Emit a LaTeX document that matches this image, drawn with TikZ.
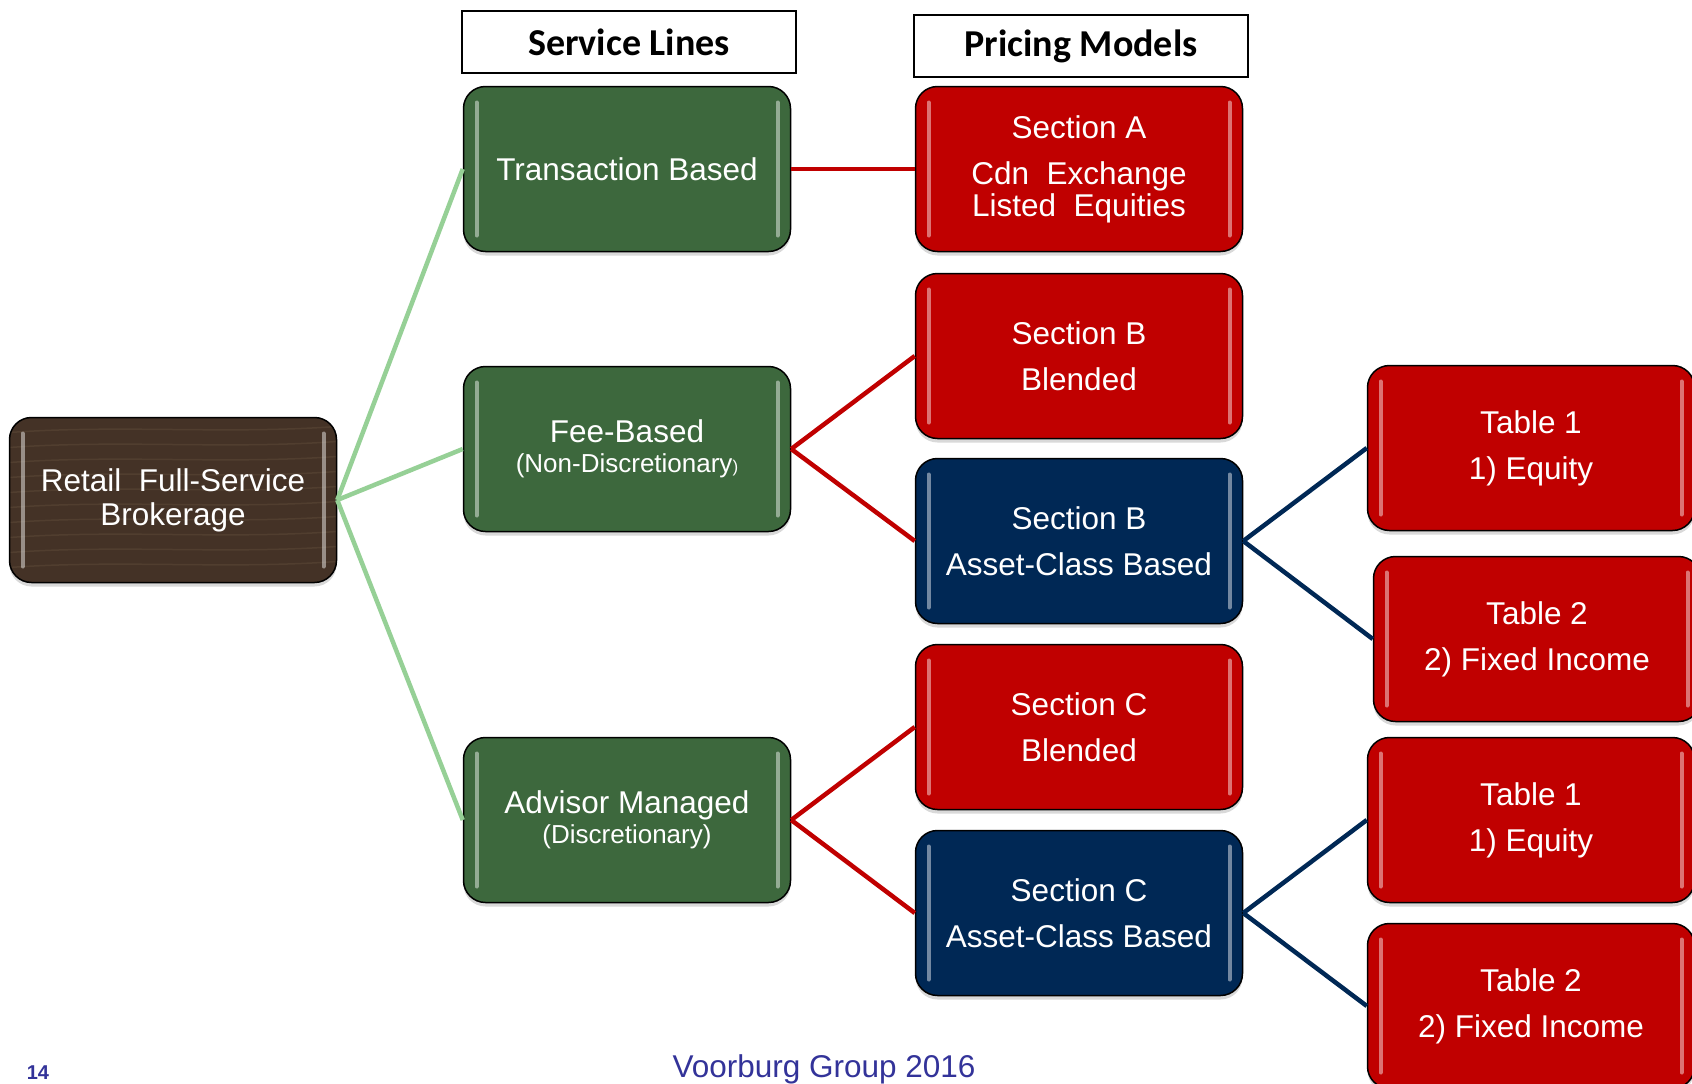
\documentclass[tikz,border=0pt]{standalone}
\usepackage{fontspec}
\setmainfont{Liberation Sans}
\newfontfamily\hdrfont{Carlito}
\usetikzlibrary{shadows}
\definecolor{leafgreen}{RGB}{61,104,61}
\definecolor{boxred}{RGB}{192,0,0}
\definecolor{boxnavy}{RGB}{0,40,85}
\definecolor{woodbrown}{RGB}{68,50,38}
\definecolor{woodlight}{RGB}{130,108,82}
\definecolor{linkgreen}{RGB}{150,208,150}
\definecolor{footblue}{RGB}{51,51,153}
\newcommand\gleamlines{%
  \draw[white, opacity=0.45, line width=4pt, line cap=round]
    ([xshift=13pt,yshift=-16pt]path picture bounding box.north west) --
    ([xshift=13pt,yshift=16pt]path picture bounding box.south west)
    ([xshift=-13pt,yshift=-16pt]path picture bounding box.north east) --
    ([xshift=-13pt,yshift=16pt]path picture bounding box.south east);}
\newcommand\woodgrain{%
  \foreach \k in {1,...,10}
    \draw[woodlight, opacity=0.22, line width=1.5pt]
      ([yshift=\k*15pt]path picture bounding box.south west) .. controls +(110pt,8pt) and +(-110pt,-8pt) ..
      ([yshift=\k*15pt+6pt]path picture bounding box.south east);}
\tikzset{
  box/.style={draw=black, line width=1.5pt, rounded corners=22pt,
    minimum width=327pt, minimum height=165pt, align=center, text=white,
    font=\fontsize{31.5}{46}\selectfont,
    drop shadow={shadow xshift=0pt, shadow yshift=-4pt, opacity=0.3},
    path picture={\gleamlines}},
  svcbox/.style={box, fill=leafgreen},
  pricebox/.style={box, fill=boxred},
  assetbox/.style={box, fill=boxnavy},
  rootbox/.style={box, fill=woodbrown, path picture={\woodgrain\gleamlines}},
  hdrbox/.style={draw=black, line width=1.5pt, fill=white, minimum width=334pt,
    minimum height=62pt, font=\hdrfont\bfseries\fontsize{38}{40}\selectfont},
  svclink/.style={linkgreen, line width=4.5pt},
  pricelink/.style={boxred, line width=4.5pt},
  assetlink/.style={boxnavy, line width=4.5pt}
}
\begin{document}
\begin{tikzpicture}[x=1pt, y={(0pt,-1pt)}]
  \useasboundingbox (0,0) rectangle (1692,1084);
  % column headers
  \node[hdrbox] (svclines) at (629,42) {Service Lines};
  \node[hdrbox] (pricemodels) at (1081,46) {Pricing Models};
  % nodes
  \node[rootbox] (brokerage) at (173,500) {Retail~~Full-Service\\[-12pt]Brokerage};
  \node[svcbox] (trans) at (627,169) {Transaction Based};
  \node[svcbox] (fee) at (627,449) {Fee-Based\\[-16pt]{\fontsize{26}{30}\selectfont(Non-Discretionary{\fontsize{17}{20}\selectfont)}}};
  \node[svcbox] (advisor) at (627,820) {Advisor Managed\\[-16pt]{\fontsize{26}{30}\selectfont(Discretionary)}};
  \node[pricebox] (secA) at (1079,169) {Section A\\Cdn~~Exchange\\[-14pt]Listed~~Equities};
  \node[pricebox] (secBblend) at (1079,356) {Section B\\Blended};
  \node[assetbox] (secBasset) at (1079,541) {Section B\\Asset-Class Based};
  \node[pricebox] (secCblend) at (1079,727) {Section C\\Blended};
  \node[assetbox] (secCasset) at (1079,913) {Section C\\Asset-Class Based};
  \node[pricebox] (tabBone) at (1531,448) {Table 1\\1) Equity};
  \node[pricebox] (tabBtwo) at (1537,639) {Table 2\\2) Fixed Income};
  \node[pricebox] (tabCone) at (1531,820) {Table 1\\1) Equity};
  \node[pricebox] (tabCtwo) at (1531,1006) {Table 2\\2) Fixed Income};
  % connectors
  \draw[svclink] (brokerage.east) -- (trans.west);
  \draw[svclink] (brokerage.east) -- (fee.west);
  \draw[svclink] (brokerage.east) -- (advisor.west);
  \draw[pricelink] (trans.east) -- (secA.west);
  \draw[pricelink] (fee.east) -- (secBblend.west);
  \draw[pricelink] (fee.east) -- (secBasset.west);
  \draw[pricelink] (advisor.east) -- (secCblend.west);
  \draw[pricelink] (advisor.east) -- (secCasset.west);
  \draw[assetlink] (secBasset.east) -- (tabBone.west);
  \draw[assetlink] (secBasset.east) -- (tabBtwo.west);
  \draw[assetlink] (secCasset.east) -- (tabCone.west);
  \draw[assetlink] (secCasset.east) -- (tabCtwo.west);
  % footer
  \node[anchor=base, text=footblue, font=\bfseries\fontsize{20}{22}\selectfont] (pagenum) at (38,1079) {14};
  \node[anchor=base, text=footblue, font=\fontsize{31.5}{34}\selectfont] (footer) at (824,1077) {Voorburg Group 2016};
\end{tikzpicture}
\end{document}
